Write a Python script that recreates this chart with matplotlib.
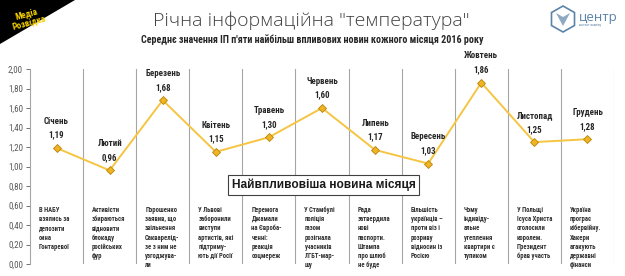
import matplotlib
matplotlib.use("Agg")
import matplotlib.pyplot as plt
from matplotlib import font_manager
from matplotlib.patches import Polygon
from matplotlib.ticker import FuncFormatter

# --- data ---
months = ["Січень", "Лютий", "Березень", "Квітень", "Травень", "Червень",
          "Липень", "Вересень", "Жовтень", "Листопад", "Грудень"]
values = [1.19, 0.96, 1.68, 1.15, 1.30, 1.60, 1.17, 1.03, 1.86, 1.25, 1.28]
news = [
    "В НАБУ\nвзялись за\nдепозити\nсина\nГонтаревої",
    "Активісти\nзбираються\nвідновити\nблокаду\nросійських\nфур",
    "Порошенко\nзаявив, що\nзвільнення\nСакварелід-\nзе з ним не\nузгоджува-\nли",
    "У Львові\nзаборонили\nвиступи\nартистів, які\nпідтриму-\nють дії Росії",
    "Перемога\nДжамали\nна Євроба-\nченні:\nреакція\nсоцмереж",
    "У Стамбулі\nполіція\nгазом\nрозігнала\nучасників\nЛГБТ-мар-\nшу",
    "Рада\nзатвердила\nнові\nпаспорти.\nШтампа\nпро шлюб\nне буде",
    "Більшість\nукраїнців –\nпроти віз і\nрозриву\nвідносин із\nРосією",
    "Чому\nіндивіду-\nальне\nутеплення\nквартири є\nтупиком",
    "У Польщі\nІсуса Христа\nоголосили\nкоролем.\nПрезидент\nбрав участь",
    "Україна\nпрограє\nкібервійну.\nХакери\nатакують\nдержавні\nфінанси",
]
yticks = [0, 0.2, 0.4, 0.6, 0.8, 1.0, 1.2, 1.4, 1.6, 1.8, 2.0]

title = 'Річна інформаційна "температура"'
subtitle = "Середнє значення ІП п'яти найбільш впливових новин кожного місяця 2016 року"
box_label = "Найвпливовіша новина місяця"


def pick_font(names):
    for n in names:
        try:
            font_manager.findfont(n, fallback_to_default=False)
            return n
        except Exception:
            pass
    return "DejaVu Sans"


narrow = pick_font(["Liberation Sans Narrow", "Roboto Condensed", "Open Sans", "Liberation Sans"])
light = pick_font(["Open Sans", "Lato", "Liberation Sans"])
plt.rcParams["font.family"] = [narrow, "DejaVu Sans"]

W, H = 625, 276


def fx(px):
    return px / W


def fy(py):
    return 1 - py / H


fig = plt.figure(figsize=(6.25, 2.76), dpi=100)
ax = fig.add_axes([fx(30), 12 / H, 584 / W, 195 / H])

x = list(range(len(months)))
ax.plot(x, values, color="#F5C542", lw=1.4, marker="D", ms=4.2,
        mfc="#F0B323", mec="#B8860B", mew=0.6, zorder=3)

ax.set_xlim(-0.5, len(months) - 0.5)
ax.set_ylim(0, 2)
ax.set_yticks(yticks)
ax.yaxis.set_major_formatter(FuncFormatter(lambda v, p: f"{v:.2f}".replace(".", ",")))
ax.tick_params(axis="y", labelsize=6.5, colors="#595959", length=3, width=0.6, pad=2)
ax.tick_params(axis="x", bottom=False, labelbottom=False)
for s in ["top", "right", "bottom"]:
    ax.spines[s].set_visible(False)
ax.spines["left"].set_color("#A6A6A6")
ax.spines["left"].set_linewidth(0.8)

# column separators
for b in range(1, len(months) + 1):
    ax.axvline(b - 0.5, color="#A6A6A6", lw=0.8, zorder=1)

# point labels
for i, (m, v) in enumerate(zip(months, values)):
    ax.annotate(f"{m}\n{v:.2f}".replace(".", ","), (i, v), xytext=(0, 6),
                textcoords="offset points", ha="center", va="bottom",
                fontsize=6.4, fontweight="bold", color="#262626", linespacing=1.7)

# news under each column
for i, t in enumerate(news):
    ax.text(i - 0.5 + 0.17, 0.595, t, ha="left", va="top", fontsize=4.8,
            fontweight="bold", color="#333333", linespacing=1.2,
            clip_on=False)

ax.text(5.03, 0.81, box_label, ha="center", va="center", fontsize=8.6,
        color="#1A1A1A", fontweight="semibold",
        family=["Liberation Sans", "DejaVu Sans"],
        bbox=dict(boxstyle="square,pad=0.3", fc="white", ec="#404040", lw=0.8),
        zorder=5)

fig.text(fx(311), fy(21), title, ha="center", va="center", fontsize=14,
         color="#404040", family=[light, "DejaVu Sans"], fontweight="light")
fig.text(fx(312), fy(40), subtitle, ha="center", va="center", fontsize=7.2,
         color="#262626", fontweight="bold")

# left logo: black corner with yellow text
fig.patches.append(Polygon([[0, 1], [fx(75), 1], [0, fy(44)]],
                           closed=True, transform=fig.transFigure,
                           fc="black", ec="none", zorder=0))
fig.text(fx(28), fy(18), "Медіа\nРозвідка", ha="center", va="center",
         fontsize=6.5, fontweight="bold", color="#F5D000", rotation=15,
         linespacing=0.9)

# right logo: hexagon and text
hex_pts = [(563, 6), (551.5, 12.5), (551.5, 25.5), (563, 32), (574.5, 25.5), (574.5, 12.5)]
fig.patches.append(Polygon([[fx(a), fy(b)] for a, b in hex_pts], closed=True,
                           transform=fig.transFigure, fc="white",
                           ec="#5C83A8", lw=1.2, zorder=1))
fig.patches.append(Polygon([[fx(556), fy(13)], [fx(563), fy(17)], [fx(570), fy(13)],
                            [fx(563), fy(26)]], closed=True,
                           transform=fig.transFigure, fc="#8FA9C2", ec="none", zorder=2))
fig.text(fx(579), fy(17), "центр", ha="left", va="center", fontsize=9.5,
         color="#5C83A8", family=[light, "DejaVu Sans"])
fig.text(fx(579), fy(25), "контент-аналізу", ha="left", va="center",
         fontsize=2.5, color="#5C83A8")

fig.savefig("out.png", dpi=100)
